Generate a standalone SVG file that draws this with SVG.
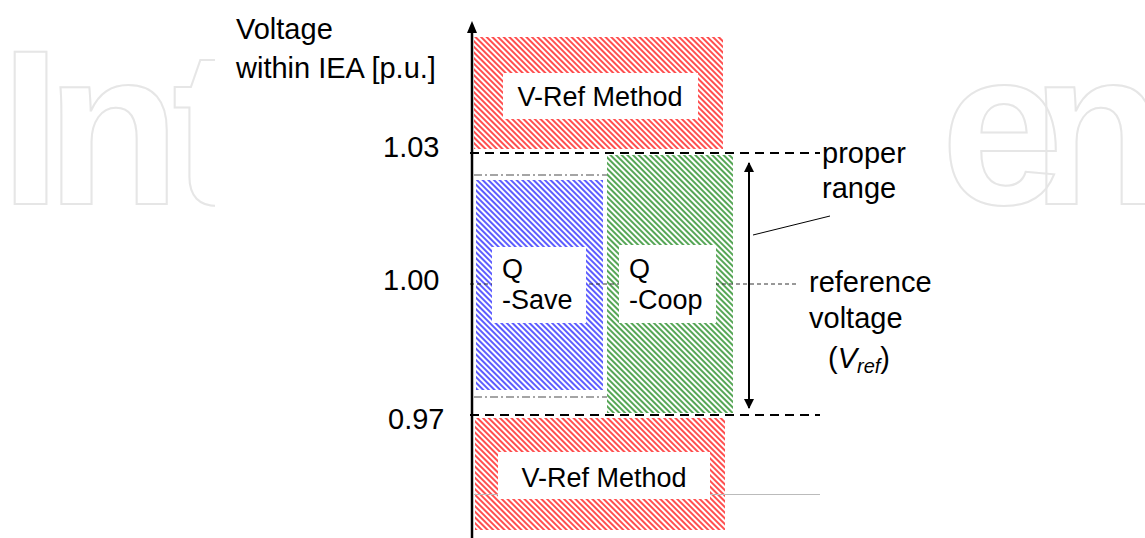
<svg xmlns="http://www.w3.org/2000/svg" width="1145" height="538" viewBox="0 0 1145 538">
<style>
.t{font-family:"Liberation Sans",Arial,sans-serif;fill:#000;}
.big{font-size:29px;}
.mid{font-size:27px;}
.box{fill:#fff;stroke:none;}
.dash{stroke:#000;stroke-width:2;stroke-dasharray:9 6;fill:none;}
.thin{stroke:#333;stroke-width:1;stroke-dasharray:4 3;fill:none;}
.dd{stroke:#888;stroke-width:1.5;stroke-dasharray:8 3 2 3;fill:none;}
.wm{font-family:"Liberation Sans",Arial,sans-serif;font-weight:bold;font-size:220px;fill:none;stroke:#e6e6e6;stroke-width:2;}
</style>
<defs>
<pattern id="hr" width="4" height="4" patternUnits="userSpaceOnUse" patternTransform="rotate(45)">
<rect width="4" height="4" fill="#fff"/><line x1="0" y1="2" x2="4" y2="2" stroke="#f22" stroke-width="1.6"/>
</pattern>
<pattern id="hb" width="4" height="4" patternUnits="userSpaceOnUse" patternTransform="rotate(45)">
<rect width="4" height="4" fill="#fff"/><line x1="0" y1="2" x2="4" y2="2" stroke="#33f" stroke-width="1.6"/>
</pattern>
<pattern id="hg" width="4" height="4" patternUnits="userSpaceOnUse" patternTransform="rotate(45)">
<rect width="4" height="4" fill="#fff"/><line x1="0" y1="2" x2="4" y2="2" stroke="#2a8f2a" stroke-width="1.6"/>
</pattern>
<clipPath id="cl"><rect x="0" y="0" width="215" height="538"/></clipPath>
<clipPath id="cr"><rect x="948" y="0" width="197" height="538"/></clipPath>
<marker id="ah" viewBox="0 0 10 10" refX="9" refY="5" markerWidth="10" markerHeight="10" markerUnits="userSpaceOnUse" orient="auto-start-reverse">
<path d="M0,0 L10,5 L0,10 z" fill="#000"/>
</marker>
</defs>
<rect width="1145" height="538" fill="#fff"/>
<g id="watermark">
<text class="wm" x="0 46 172" y="204" clip-path="url(#cl)">Int</text>
<text class="wm" x="941 1031" y="204" clip-path="url(#cr)">en</text>
</g>

<g id="vref-top">
<rect x="474" y="37" width="249" height="112" fill="url(#hr)"/>
</g>
<g id="q-coop">
<rect x="607" y="155" width="126" height="258" fill="url(#hg)"/>
</g>
<g id="q-save">
<rect x="476" y="180" width="127" height="210" fill="url(#hb)"/>
</g>
<g id="vref-bottom">
<rect x="475" y="418" width="250" height="112" fill="url(#hr)"/>
</g>

<g id="connectors">
<line class="dash" x1="470" y1="153" x2="820" y2="153"/>
<line class="dash" x1="470" y1="415" x2="820" y2="415"/>
<line class="thin" x1="470" y1="284" x2="797" y2="284"/>
<line class="dd" x1="474" y1="175" x2="607" y2="175"/>
<line class="dd" x1="474" y1="397" x2="607" y2="397"/>
<line x1="474" y1="494.5" x2="820" y2="494.5" stroke="#bbb" stroke-width="1"/>
<line x1="749" y1="163" x2="749" y2="408" stroke="#000" stroke-width="2" marker-start="url(#ah)" marker-end="url(#ah)"/>
<line x1="753" y1="235" x2="830" y2="216" stroke="#000" stroke-width="1"/>
</g>

<g id="vref-top-label">
<rect class="box" x="503" y="73" width="195" height="46"/>
<text class="t mid" x="600" y="106" text-anchor="middle">V-Ref Method</text>
</g>
<g id="q-save-label">
<rect class="box" x="492" y="247" width="94" height="76"/>
<text class="t mid" x="502" y="278">Q</text>
<text class="t mid" x="502" y="309">-Save</text>
</g>
<g id="q-coop-label">
<rect class="box" x="619" y="245" width="97" height="78"/>
<text class="t mid" x="629" y="278">Q</text>
<text class="t mid" x="629" y="309">-Coop</text>
</g>
<g id="vref-bottom-label">
<rect class="box" x="498" y="452" width="212" height="47"/>
<text class="t mid" x="604" y="487" text-anchor="middle">V-Ref Method</text>
</g>

<g id="axis">
<line x1="472" y1="538" x2="472" y2="30" stroke="#000" stroke-width="2.5"/>
<path d="M472,21 L467,33 L477,33 z" fill="#000"/>
</g>

<g id="labels">
<text class="t big" x="236" y="39">Voltage</text>
<text class="t big" x="236" y="78">within IEA [p.u.]</text>
<text class="t big" x="383" y="157">1.03</text>
<text class="t big" x="383" y="290">1.00</text>
<text class="t big" x="388" y="429">0.97</text>
<text class="t big" x="822" y="163">proper</text>
<text class="t big" x="822" y="198">range</text>
<text class="t big" x="809" y="292">reference</text>
<text class="t big" x="809" y="328">voltage</text>
<text class="t big" x="828" y="368">(<tspan font-style="italic">V</tspan><tspan font-style="italic" font-size="20" dy="5">ref</tspan><tspan dy="-5">)</tspan></text>
</g>
</svg>
